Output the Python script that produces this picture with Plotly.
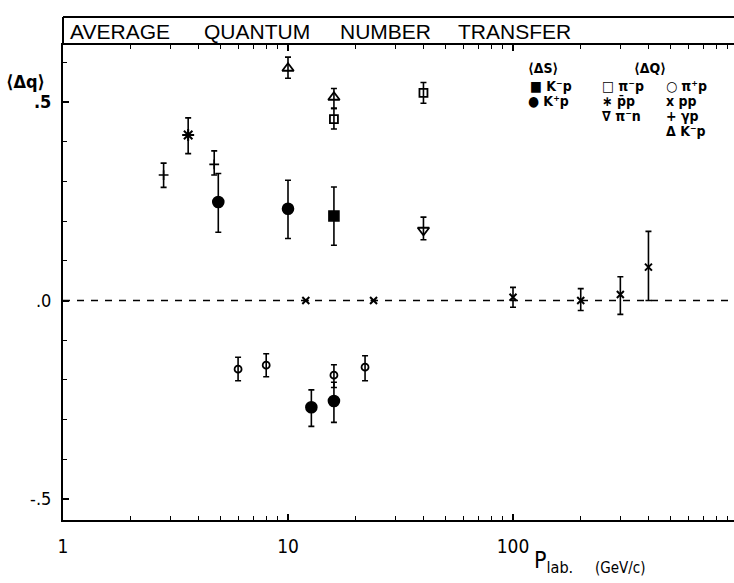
import plotly.graph_objects as go

# ---- data (P_lab in GeV/c, <Δq>) ----
gp_x = [2.8, 4.7]
gp_y = [0.316, 0.343]
gp_up = [0.030, 0.034]
gp_dn = [0.031, 0.027]

pbp_x = [3.6]
pbp_y = [0.417]
pbp_up = [0.043]
pbp_dn = [0.047]

kpS_x = [4.9, 10, 12.7, 16]
kpS_y = [0.248, 0.231, -0.269, -0.253]
kpS_up = [0.072, 0.072, 0.044, 0.047]
kpS_dn = [0.076, 0.075, 0.048, 0.054]

kmS_x = [16]
kmS_y = [0.213]
kmS_up = [0.073]
kmS_dn = [0.074]

kmQ_x = [10, 16]
kmQ_y = [0.585, 0.512]
kmQ_up = [0.028, 0.022]
kmQ_dn = [0.025, 0.028]

pimp_x = [16, 40]
pimp_y = [0.457, 0.523]
pimp_up = [0.027, 0.026]
pimp_dn = [0.025, 0.026]

pipp_x = [6, 8, 16, 22]
pipp_y = [-0.173, -0.163, -0.188, -0.168]
pipp_up = [0.030, 0.029, 0.026, 0.029]
pipp_dn = [0.029, 0.029, 0.031, 0.034]

pp_x = [12, 24, 100, 200, 300, 400]
pp_y = [0.0, 0.0, 0.008, 0.0, 0.015, 0.084]
pp_up = [0.0, 0.0, 0.025, 0.030, 0.045, 0.090]
pp_dn = [0.0, 0.0, 0.025, 0.025, 0.050, 0.084]

pimn_x = [40]
pimn_y = [0.177]
pimn_up = [0.033]
pimn_dn = [0.024]

x_tickvals = [1, 10, 100]
x_ticktext = ["1", "10", "100"]
y_tickvals = [0.5, 0.0, -0.5]
y_ticktext = ["<b>.5</b>", ".0", "-.5"]

title_words = ["AVERAGE", "QUANTUM", "NUMBER", "TRANSFER"]

FONT = "DejaVu Sans Condensed, Liberation Sans Narrow, Arial Narrow, sans-serif"
TFONT = "Liberation Sans, Arial, sans-serif"
W, H = 734, 583
L, R, T, B = 63, 0, 45, 63
PW, PH = W - L - R, H - T - B


def px(x):
    return (x - L) / PW


def py(y):
    return (H - B - y) / PH


fig = go.Figure()


def add(xs, ys, up, dn, symbol, size, lw=1.6):
    fig.add_trace(go.Scatter(
        x=xs, y=ys, mode="markers",
        marker=dict(symbol=symbol, size=size, color="black",
                    line=dict(color="black", width=lw)),
        error_y=dict(type="data", symmetric=False, array=up, arrayminus=dn,
                     color="black", thickness=1.6, width=3),
        showlegend=False, cliponaxis=False))


add(gp_x, gp_y, gp_up, gp_dn, "cross-thin-open", 7)
add(pbp_x, pbp_y, pbp_up, pbp_dn, "asterisk-open", 10, 2)
add(kpS_x, kpS_y, kpS_up, kpS_dn, "circle", 11)
add(kmS_x, kmS_y, kmS_up, kmS_dn, "square", 10)
add(kmQ_x, kmQ_y, kmQ_up, kmQ_dn, "triangle-up-open", 10, 1.8)
add(pimp_x, pimp_y, pimp_up, pimp_dn, "square-open", 8, 1.8)
add(pipp_x, pipp_y, pipp_up, pipp_dn, "circle-open", 7, 1.8)
add(pp_x, pp_y, pp_up, pp_dn, "x-thin-open", 7, 2)
add(pimn_x, pimn_y, pimn_up, pimn_dn, "triangle-down-open", 10, 1.8)

shapes = [
    # dashed zero line
    dict(type="line", xref="paper", yref="y", x0=0, x1=1, y0=0, y1=0,
         line=dict(color="black", width=1.5, dash="7px,7px"), layer="below"),
    # title box
    dict(type="line", xref="paper", yref="paper", x0=0, x1=1.01,
         y0=py(17), y1=py(17), line=dict(color="black", width=2)),
    dict(type="line", xref="paper", yref="paper", x0=0, x1=0,
         y0=1, y1=py(17), line=dict(color="black", width=2)),
]

ann = []


def text(x, y, s, size, xanchor="left", bold=False, family=FONT):
    ann.append(dict(x=px(x), y=py(y), xref="paper", yref="paper", text=s,
                    showarrow=False, xanchor=xanchor, yanchor="middle",
                    font=dict(family=family, size=size, color="black",
                              weight="bold" if bold else "normal")))


for wx, w in zip([68, 202, 338, 456], title_words):
    text(wx, 31, w, 21, family=TFONT)

text(4, 81, "⟨Δq⟩", 18, bold=True)
# legend
text(526, 68, "⟨ΔS⟩", 14, bold=True)
text(632, 68, "⟨ΔQ⟩", 14, bold=True)
text(528, 86, "■ K⁻p", 14, bold=True)
text(526, 101, "● K⁺p", 14, bold=True)
text(600, 86, "□ π⁻p", 14, bold=True)
text(600, 101, "∗ p̄p", 14, bold=True)
text(600, 116, "∇ π⁻n", 14, bold=True)
text(664, 86, "○ π⁺p", 14, bold=True)
text(664, 101, "x pp", 14, bold=True)
text(664, 116, "+ γp", 14, bold=True)
text(664, 131, "Δ K⁻p", 14, bold=True)
# x axis title
text(532, 562, "P<sub>lab.</sub>", 23)
text(593, 568, "(GeV/c)", 15)

fig.update_layout(
    width=W, height=H,
    margin=dict(l=L, r=R, t=T, b=B, pad=0),
    paper_bgcolor="white", plot_bgcolor="white",
    shapes=shapes, annotations=ann,
    xaxis=dict(type="log", range=[0, (W - L) / 225.0], showgrid=False,
               zeroline=False, showline=True, linecolor="black", linewidth=2,
               mirror="ticks", ticks="inside", ticklen=6, tickwidth=1.5,
               tickcolor="black", tickmode="array", tickvals=x_tickvals,
               ticktext=x_ticktext, ticklabelstandoff=8,
               tickfont=dict(family=FONT, size=19, color="black"),
               minor=dict(tickmode="array",
                          tickvals=[2, 3, 4, 5, 6, 7, 8, 9, 20, 30, 40, 50, 60, 70, 80, 90,
                                    200, 300, 400, 500, 600, 700, 800, 900],
                          ticks="inside", ticklen=4, tickwidth=1.3, tickcolor="black")),
    yaxis=dict(range=[-(520 - 300.5) / 397.0, (300.5 - 45) / 397.0],
               showgrid=False, zeroline=False, showline=True, linecolor="black",
               linewidth=2, mirror=False, ticks="inside", ticklen=6, tickwidth=1.5,
               tickcolor="black", tickmode="array", tickvals=y_tickvals,
               ticktext=y_ticktext, ticklabelstandoff=6,
               tickfont=dict(family=FONT, size=18, color="black"),
               minor=dict(dtick=0.1, tick0=0, ticks="inside", ticklen=4,
                          tickwidth=1.3, tickcolor="black")),
)

fig.write_html("out.html", config={"displayModeBar": False},
               post_script="document.body.style.margin='0';document.body.style.padding='0';")
